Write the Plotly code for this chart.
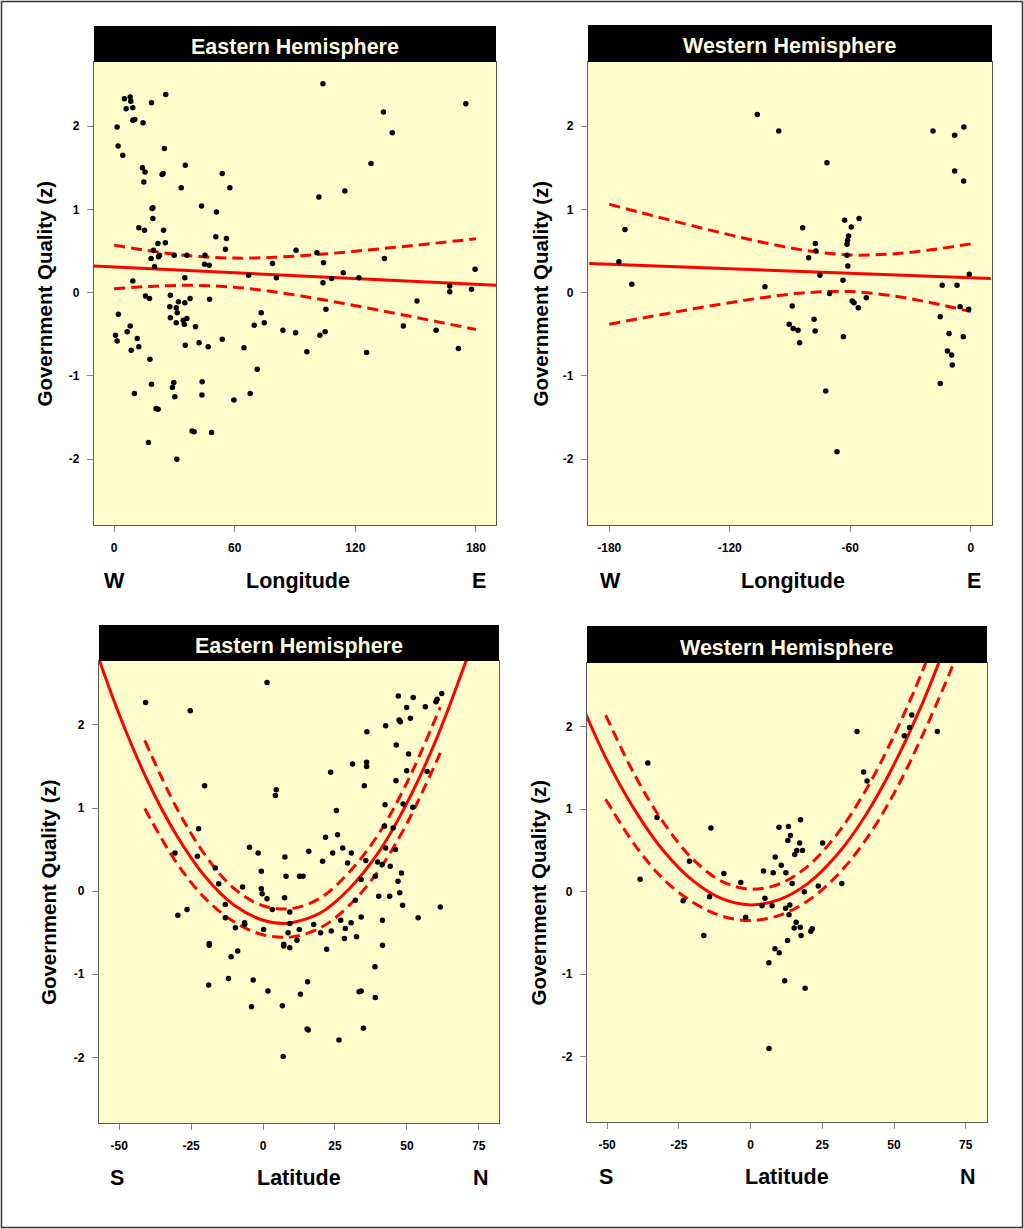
import plotly.graph_objects as go

W, H = 1024, 1229

# ---------------- data ----------------
# Panel 1: Eastern Hemisphere, longitude
east_lon = [103.9, 175, 25.7, 5.1, 8.0, 8.3, 6.0, 9.3, 18.6, 9.3, 10.3, 14.4, 1.5, 134, 138.4, 2, 4.3, 25,
            35.4, 14.1, 15.4, 14.8, 24.4, 23.9, 53.8, 57.6, 33.4, 127.8, 101.9, 114.8, 43.5, 50.9, 19.3, 18.9,
            19.3, 12.3, 15.1, 24.6, 50.6, 55.9, 55.4, 21.8, 25.5, 19.6, 90.5, 100.9, 18.4, 22.1, 22.6, 29.9,
            36.2, 45.2, 45, 47.3, 134.5, 20.1, 78.8, 104.2, 179.6, 66.9, 80.7, 114, 108.2, 121.8, 103.9, 9.3,
            35.2, 167, 167, 177.8, 15.6, 17.6, 28, 37.8, 47.5, 150.7, 27.7, 30.9, 32, 35.2, 31.4, 105.4, 2.1,
            73.2, 28, 34.4, 36.2, 30.9, 34.9, 40.5, 8, 6.5, 0.7, 1.5, 11.5, 12.3, 8.5, 35.4, 42.3, 46.8, 53.8,
            64.6, 69.7, 74.7, 84, 90.3, 95.9, 102.4, 105, 143.9, 160.2, 171.3, 125.6, 17.8, 71.2, 10.1, 18.6,
            29.7, 29, 30.2, 43.8, 43.7, 59.6, 67.7, 20.9, 21.9, 38.8, 39.8, 48.5, 17.1, 31.2]
east_lon_gq = [2.51, 2.27, 2.38, 2.33, 2.35, 2.30, 2.21, 2.22, 2.28, 2.07, 2.08, 2.04, 1.99, 2.17, 1.92, 1.76,
               1.65, 1.73, 1.53, 1.50, 1.45, 1.33, 1.43, 1.42, 1.43, 1.26, 1.26, 1.55, 1.15, 1.22, 1.04, 0.97,
               1.02, 1.01, 0.89, 0.78, 0.75, 0.75, 0.67, 0.65, 0.52, 0.59, 0.60, 0.51, 0.51, 0.48, 0.41, 0.43,
               0.45, 0.45, 0.45, 0.45, 0.34, 0.33, 0.41, 0.31, 0.35, 0.36, 0.28, 0.21, 0.18, 0.24, 0.17, 0.18,
               0.12, 0.14, 0.18, 0.08, 0.01, 0.04, -0.04, -0.07, -0.03, -0.07, -0.08, -0.10, -0.17, -0.18,
               -0.11, -0.12, -0.24, -0.20, -0.26, -0.24, -0.30, -0.33, -0.31, -0.36, -0.38, -0.41, -0.40,
               -0.47, -0.51, -0.58, -0.55, -0.65, -0.69, -0.63, -0.60, -0.65, -0.56, -0.66, -0.39, -0.36,
               -0.45, -0.48, -0.71, -0.51, -0.47, -0.40, -0.45, -0.67, -0.72, -0.80, -0.92, -1.21, -1.10,
               -1.08, -1.14, -1.25, -1.07, -1.23, -1.29, -1.21, -1.39, -1.40, -1.66, -1.67, -1.68, -1.80, -2.00]

# Panel 2: Western Hemisphere, longitude
west_lon = [-106.3, -95.6, -18.8, -8, -3.4, -71.6, -8, -3.5, -172.2, -83.7, -62.8, -55.6, -59.5, -60.8, -61.3,
            -61.6, -77.4, -77.1, -80.7, -61.6, -61.2, -175.2, -75.1, -63.6, -0.7, -168.8, -102.5, -14.2, -6.8,
            -70.3, -59, -58.1, -56, -52, -88.9, -5.3, -1, -15.2, -78, -90.4, -88.4, -86, -85.2, -77.5, -63.4,
            -10.8, -3.7, -11.6, -9.5, -9.2, -15.2, -72.2, -66.6]
west_lon_gq = [2.14, 1.94, 1.94, 1.89, 1.99, 1.56, 1.46, 1.34, 0.76, 0.78, 0.87, 0.89, 0.79, 0.68, 0.63, 0.58,
               0.59, 0.50, 0.42, 0.45, 0.32, 0.37, 0.21, 0.15, 0.22, 0.10, 0.07, 0.09, 0.09, -0.01, -0.10,
               -0.12, -0.18, -0.06, -0.16, -0.17, -0.20, -0.29, -0.32, -0.38, -0.43, -0.45, -0.60, -0.46,
               -0.53, -0.49, -0.53, -0.70, -0.75, -0.87, -1.09, -1.18, -1.91]

# Panel 3: Eastern Hemisphere, latitude
east_lat = [1.4, -40.8, -25.3, 47, 52.2, 62.1, 60.5, 60.1, 49.9, 56.4, 47.3, 47.7, 51.2, 42.6, 36.1, 46.3, 50.6,
            31.1, 36, 36, 23.5, 49.9, 57, 46.2, -20.3, 4.6, 4.3, 35.2, 42.4, 48.7, 52, 25.5, -22.4, 25.9, 21.7,
            42.2, 45.2, 42.6, 46, -4.7, -1.7, 15.9, 27.7, 30.7, 24.2, -30.6, -22.8, 7.6, 35.7, 20.7, 29.4, 39.8,
            41.4, 44.2, -16.6, -0.6, 8, 12.7, 13.9, 39, 48.1, 46.9, 34.1, -15.4, -7.1, -0.6, -0.3, 1.4, 7.5,
            32.1, 40.2, 44, 47.5, 48.5, 61.6, -13.1, 3.2, 9.3, -29.6, -26.4, -13.1, -9.6, -6.4, -6.4, 0.2, 9.3,
            8.7, 12.6, 11.8, 7.2, 7.2, 9.3, 17.6, 20, 23.7, 22.1, 27, 28.6, 28.3, 30.6, 32.5, 34.1, 41.5, 53.9,
            41.5, -18.7, -18.7, -8.8, -11.1, 38.9, -12, -3.4, 15.5, -18.9, 1.7, 13, 33.4, 34.1, 39, -4, 6.7,
            15.3, 15.7, 34.9, 26.4, 7]
east_lat_gq = [2.51, 2.27, 2.17, 2.35, 2.33, 2.38, 2.31, 2.28, 2.21, 2.22, 2.06, 2.04, 2.08, 1.99, 1.92, 1.76,
               1.65, 1.53, 1.55, 1.50, 1.43, 1.45, 1.44, 1.33, 1.27, 1.22, 1.15, 1.27, 1.04, 1.05, 1.01, 0.97,
               0.75, 0.68, 0.65, 0.78, 0.76, 0.52, 0.50, 0.53, 0.46, 0.48, 0.52, 0.46, 0.46, 0.46, 0.42, 0.41,
               0.37, 0.36, 0.34, 0.35, 0.32, 0.30, 0.28, 0.24, 0.18, 0.18, 0.18, 0.18, 0.22, 0.12, 0.14, 0.09,
               0.05, 0.03, -0.03, -0.09, -0.08, -0.11, -0.06, -0.06, -0.02, -0.17, -0.19, -0.16, -0.22, -0.25,
               -0.29, -0.22, -0.32, -0.44, -0.38, -0.40, -0.46, -0.39, -0.50, -0.46, -0.59, -0.64, -0.66, -0.68,
               -0.40, -0.50, -0.48, -0.70, -0.35, -0.45, -0.57, -0.38, -0.55, -0.31, -0.35, -0.32, -0.65, -0.63,
               -0.65, -0.72, -0.79, -0.91, -1.05, -1.07, -1.09, -1.13, -1.20, -1.24, -1.21, -1.20, -1.28, -1.39,
               -1.38, -1.66, -1.67, -1.65, -1.79, -1.99]

# Panel 4: Western Hemisphere, latitude
west_lat = [37.1, 56.2, 55.4, 53.6, 65.1, -35.8, 39.4, 40.6, -32.6, -13.8, 9.9, 13.2, 17.4, 13.9, 13, 17.1, 25.1,
            16.1, 18.1, 15.4, 8.6, 10.7, -21.3, 4.5, 7.9, 12.3, -9.3, -38.5, -3.4, 14.5, 23.6, 31.8, 18.7, -14.3,
            -23.5, 5, 4, 7.5, 12.2, 13.7, 13.4, -1.7, 15.9, 17.3, 15.2, 21.5, 21, 17.6, -16.3, 12.9, 8.5, 10,
            6.4, 11.9, 19, 6.4]
west_lat_gq = [1.94, 2.14, 1.99, 1.89, 1.94, 1.56, 1.45, 1.34, 0.90, 0.77, 0.78, 0.79, 0.87, 0.68, 0.62, 0.59,
               0.59, 0.50, 0.50, 0.45, 0.42, 0.32, 0.37, 0.25, 0.23, 0.23, 0.22, 0.15, 0.11, 0.10, 0.07, 0.10,
               0.00, -0.06, -0.11, -0.08, -0.17, -0.17, -0.20, -0.16, -0.28, -0.31, -0.37, -0.43, -0.44, -0.45,
               -0.48, -0.53, -0.53, -0.59, -0.69, -0.74, -0.86, -1.08, -1.17, -1.90]

# Fitted lines and confidence bands
fit1_x = [-10, 190]
fit1_y = [0.32, 0.09]
ci1_x = [0, 20, 40, 60, 80, 100, 120, 140, 160, 180]
ci1_up = [0.571, 0.494, 0.438, 0.415, 0.425, 0.456, 0.498, 0.545, 0.595, 0.647]
ci1_lo = [0.047, 0.078, 0.088, 0.065, 0.009, -0.068, -0.156, -0.249, -0.345, -0.443]

fit2_x = [-190, 10]
fit2_y = [0.35, 0.17]
ci2_x = [-180, -160, -140, -120, -100, -80, -60, -40, -20, 0]
ci2_up = [1.061, 0.935, 0.812, 0.694, 0.586, 0.499, 0.453, 0.463, 0.514, 0.586]
ci2_lo = [-0.379, -0.289, -0.202, -0.120, -0.048, 0.003, 0.013, -0.033, -0.120, -0.228]

fit3_x = [-58, -50, -40, -30, -20, -10, 0, 7, 10, 20, 30, 40, 50, 60, 72]
fit3_y = [2.89, 2.13, 1.32, 0.67, 0.17, -0.17, -0.35, -0.39, -0.38, -0.26, 0.03, 0.46, 1.06, 1.81, 2.91]
ci3_x = [-41.1, -30, -20, -10, 0, 10, 20, 30, 40, 50, 61.6]
ci3_up = [1.815, 1.00, 0.43, 0.03, -0.175, -0.21, -0.08, 0.23, 0.68, 1.305, 2.215]
ci3_lo = [0.995, 0.34, -0.09, -0.37, -0.525, -0.55, -0.44, -0.17, 0.24, 0.815, 1.665]

fit4_x = [-58, -50, -40, -30, -20, -10, 0, 10, 20, 30, 40, 50, 60, 66, 70]
fit4_y = [2.20, 1.59, 0.97, 0.48, 0.13, -0.085, -0.16, -0.097, 0.10, 0.44, 0.92, 1.54, 2.29, 2.81, 3.18]
ci4u_x = [-50.5, -40, -30, -20, -10, 0, 10, 20, 30, 40, 50, 60, 65]
ci4_up = [2.14, 1.39, 0.82, 0.39, 0.125, 0.03, 0.093, 0.31, 0.69, 1.22, 1.89, 2.68, 3.15]
ci4l_x = [-50.5, -40, -30, -20, -10, 0, 10, 20, 30, 40, 50, 60, 70, 75]
ci4_lo = [1.12, 0.55, 0.14, -0.13, -0.295, -0.35, -0.287, -0.11, 0.19, 0.62, 1.19, 1.90, 2.70, 3.15]

lon_east_ticks = [0, 60, 120, 180]
lon_west_ticks = [-180, -120, -60, 0]
lat_ticks = [-50, -25, 0, 25, 50, 75]
gq_ticks = [-2, -1, 0, 1, 2]

titles = ["Eastern Hemisphere", "Western Hemisphere", "Eastern Hemisphere", "Western Hemisphere"]

# ---------------- layout geometry (pixels) ----------------
FONT = "Liberation Sans, Arial, sans-serif"
BG = "#FFFDCC"
RED = "#FF0000"

def fx(p):
    return p / W

def fy(p):
    return 1 - p / H

panels = [
    dict(x0=94, x1=496, y0=62, y1=525, hy=26, xr=[-10, 190], ticks=lon_east_ticks,
         ytitle_x=44, left="W", right="E", mid="Longitude", lx=114, rx=479, mx=298, by=581),
    dict(x0=588, x1=992, y0=62, y1=525, hy=25, xr=[-190.6, 10.6], ticks=lon_west_ticks,
         ytitle_x=540, left="W", right="E", mid="Longitude", lx=610, rx=974, mx=793, by=581),
    dict(x0=99, x1=499, y0=661, y1=1123, hy=625, xr=[-57, 82], ticks=lat_ticks,
         ytitle_x=48, left="S", right="N", mid="Latitude", lx=117, rx=481, mx=299, by=1178),
    dict(x0=587, x1=987, y0=663, y1=1122, hy=626, xr=[-57, 82.4], ticks=lat_ticks,
         ytitle_x=538, left="S", right="N", mid="Latitude", lx=606, rx=968, mx=787, by=1177),
]

fig = go.Figure()

series = [
    (east_lon, east_lon_gq, fit1_x, fit1_y, [(ci1_x, ci1_up), (ci1_x, ci1_lo)]),
    (west_lon, west_lon_gq, fit2_x, fit2_y, [(ci2_x, ci2_up), (ci2_x, ci2_lo)]),
    (east_lat, east_lat_gq, fit3_x, fit3_y, [(ci3_x, ci3_up), (ci3_x, ci3_lo)]),
    (west_lat, west_lat_gq, fit4_x, fit4_y, [(ci4u_x, ci4_up), (ci4l_x, ci4_lo)]),
]

shapes = []
annotations = []
axis_common = dict(showgrid=False, zeroline=False, showline=True, linecolor="#5a5a5a", linewidth=1.3,
                   mirror=True, ticks="outside", ticklen=6, tickwidth=1, tickcolor="#8a8a8a",
                   tickfont=dict(family=FONT, size=12, color="black", weight="bold"))

for i, (p, (sx, sy, fxs, fys, cis)) in enumerate(zip(panels, series)):
    n = "" if i == 0 else str(i + 1)
    xa, ya = "x" + n, "y" + n
    for cx, cy in cis:
        fig.add_trace(go.Scatter(x=cx, y=cy, mode="lines", xaxis=xa, yaxis=ya, showlegend=False,
                                 line=dict(color=RED, width=3, dash="11px,6px", shape="spline"),
                                 hoverinfo="skip"))
    fig.add_trace(go.Scatter(x=fxs, y=fys, mode="lines", xaxis=xa, yaxis=ya, showlegend=False,
                             line=dict(color=RED, width=3, shape="spline"), hoverinfo="skip"))
    fig.add_trace(go.Scatter(x=sx, y=sy, mode="markers", xaxis=xa, yaxis=ya, showlegend=False,
                             marker=dict(color="black", size=5.5), cliponaxis=False))

    fig.layout["xaxis" + n] = dict(axis_common, domain=[fx(p["x0"]), fx(p["x1"])], range=p["xr"],
                                   anchor=ya, tickvals=p["ticks"], ticktext=[str(t) for t in p["ticks"]],
                                   ticklabelstandoff=5)
    fig.layout["yaxis" + n] = dict(axis_common, domain=[fy(p["y1"]), fy(p["y0"])], range=[-2.79, 2.77],
                                   anchor=xa, tickvals=gq_ticks, ticktext=[str(t) for t in gq_ticks],
                                   ticklabelstandoff=5)

    # black header strip
    shapes.append(dict(type="rect", xref="paper", yref="paper", x0=fx(p["x0"]), x1=fx(p["x1"]),
                       y0=fy(p["y0"]), y1=fy(p["hy"]), fillcolor="black", line=dict(width=0)))
    annotations.append(dict(text=titles[i], xref="paper", yref="paper",
                            x=fx((p["x0"] + p["x1"]) / 2), y=fy((p["hy"] + p["y0"]) / 2 + 3),
                            xanchor="center", yanchor="middle", showarrow=False,
                            font=dict(family=FONT, size=21.5, color="#FFFBE2", weight="bold")))
    # y axis title
    annotations.append(dict(text="Government Quality (z)", xref="paper", yref="paper",
                            x=fx(p["ytitle_x"]), y=fy((p["y0"] + p["y1"]) / 2), textangle=-90,
                            xanchor="center", yanchor="middle", showarrow=False,
                            font=dict(family=FONT, size=20.5, color="black", weight="bold")))
    # bottom labels
    for txt, xx in [(p["left"], p["lx"]), (p["mid"], p["mx"]), (p["right"], p["rx"])]:
        annotations.append(dict(text=txt, xref="paper", yref="paper", x=fx(xx), y=fy(p["by"]),
                                xanchor="center", yanchor="middle", showarrow=False,
                                font=dict(family=FONT, size=21.5, color="black", weight="bold")))

# outer frame
shapes.append(dict(type="rect", xref="paper", yref="paper", x0=fx(1.5), x1=fx(W - 1.5),
                   y0=fy(H - 1.5), y1=fy(1.5), line=dict(color="#333333", width=1.5)))

fig.update_layout(width=W, height=H, margin=dict(l=0, r=0, t=0, b=0), paper_bgcolor="white",
                  plot_bgcolor=BG, shapes=shapes, annotations=annotations, showlegend=False)

fig.write_html("out.html", config={"displayModeBar": False},
               post_script="document.body.style.margin='0';document.body.style.overflow='hidden';")
